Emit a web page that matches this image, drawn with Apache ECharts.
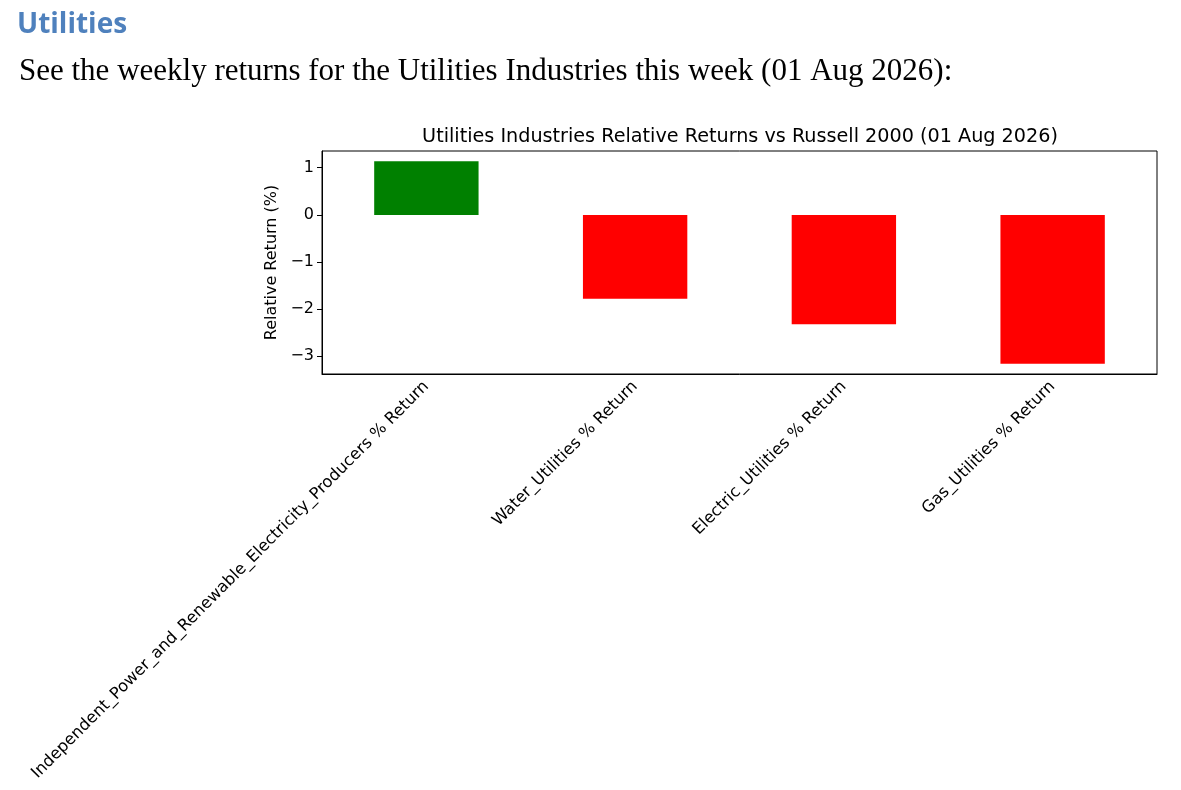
<!DOCTYPE html>
<html>
<head>
<meta charset="utf-8">
<script src="https://cdn.jsdelivr.net/npm/echarts@6/dist/echarts.min.js"></script>
<style>
html, body { margin: 0; padding: 0; background: #fff; }
#chart { width: 1181px; height: 790px; }
</style>
</head>
<body>
<div id="chart"></div>
<script>
// weekly relative returns vs Russell 2000
var categories = [
    'Independent_Power_and_Renewable_Electricity_Producers % Return',
    'Water_Utilities % Return',
    'Electric_Utilities % Return',
    'Gas_Utilities % Return'
];
var returns = [1.14, -1.78, -2.32, -3.16];
var yTicks = [-3, -2, -1, 0, 1];

var myChart = echarts.init(document.getElementById('chart'));

var option = {
    animation: false,
    title: [
        {
            text: 'Utilities',
            left: 12, top: 6,
            textStyle: { fontFamily: 'Open Sans', fontWeight: 'bold', fontSize: 28, color: '#4f81bd' }
        },
        {
            text: 'See the weekly returns for the Utilities Industries this week (01 Aug 2026):',
            left: 14, top: 51,
            textStyle: { fontFamily: 'Liberation Serif', fontWeight: 'normal', fontSize: 31, color: '#000' }
        },
        {
            text: 'Utilities Industries Relative Returns vs Russell 2000 (01 Aug 2026)',
            left: 735, top: 123, textAlign: 'center',
            textStyle: { fontFamily: 'DejaVu Sans', fontWeight: 'normal', fontSize: 19.2, color: '#000' }
        }
    ],
    grid: {
        left: 322, right: 24, top: 151, bottom: 416,
        show: true, borderColor: '#000', borderWidth: 1
    },
    xAxis: {
        type: 'category',
        data: categories,
        axisLine: { onZero: false, lineStyle: { color: '#000' } },
        axisTick: { alignWithLabel: true, length: 5, lineStyle: { color: '#000' } },
        axisLabel: {
            rotate: 45, interval: 0, margin: 10,
            fontFamily: 'DejaVu Sans', fontSize: 16.3, color: '#000'
        }
    },
    yAxis: {
        type: 'value',
        min: -3.375, max: 1.355,
        name: 'Relative Return (%)',
        nameLocation: 'middle',
        nameGap: 42,
        nameTextStyle: { fontFamily: 'DejaVu Sans', fontSize: 16, color: '#000' },
        splitLine: { show: false },
        axisLine: { show: true, lineStyle: { color: '#000' } },
        axisTick: { show: true, length: 5, customValues: yTicks, lineStyle: { color: '#000' } },
        axisLabel: {
            customValues: yTicks,
            fontFamily: 'DejaVu Sans', fontSize: 16, color: '#000', margin: 8,
            formatter: function (v) { return String(v).replace('-', '\u2212'); }
        }
    },
    series: [{
        type: 'bar',
        barWidth: '50%',
        data: returns.map(function (v) {
            return { value: v, itemStyle: { color: v >= 0 ? '#008000' : '#ff0000' } };
        })
    }]
};
myChart.setOption(option);
</script>
</body>
</html>
